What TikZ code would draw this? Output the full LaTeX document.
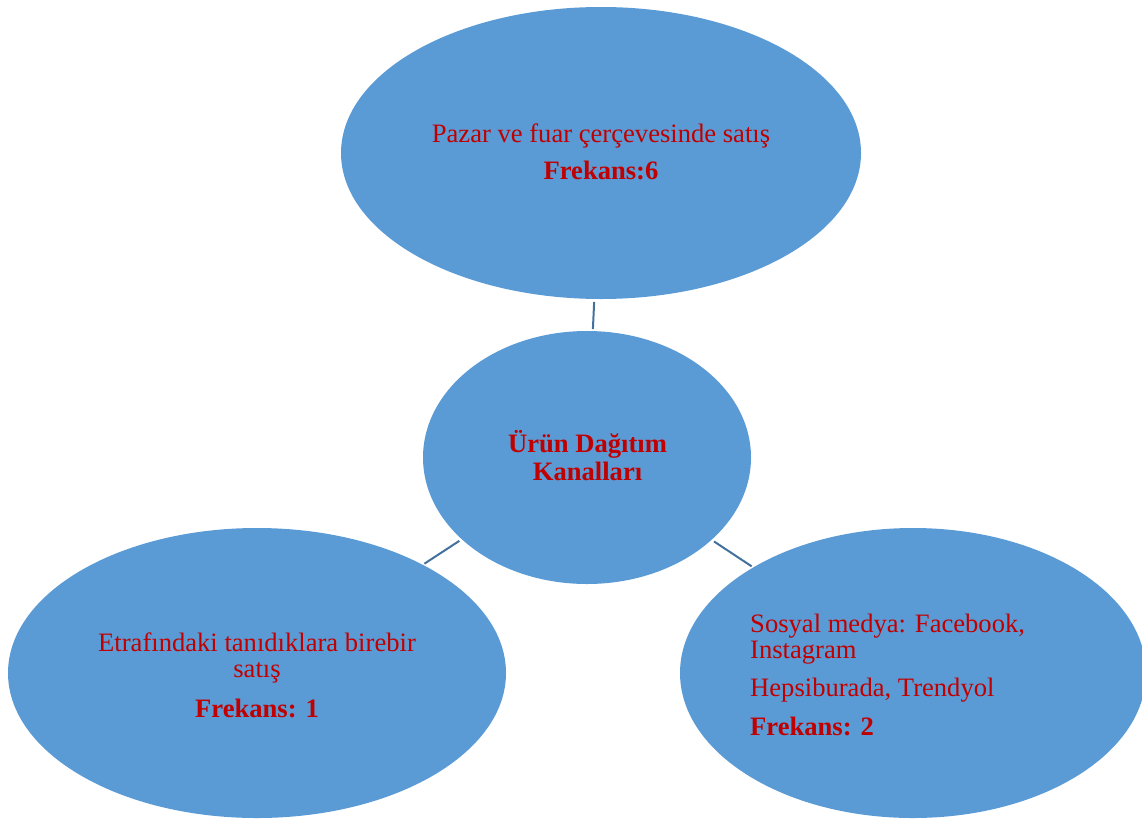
\documentclass[tikz,border=0pt]{standalone}
\usepackage{fontspec}
\setmainfont{Liberation Serif}
\usetikzlibrary{shapes.geometric}
\definecolor{fillblue}{HTML}{5B9BD5}
\definecolor{lineblue}{HTML}{41719C}
\definecolor{txtred}{HTML}{C00000}
\tikzset{
  bubble/.style={ellipse, fill=fillblue, draw=none, inner sep=0pt, outer sep=0pt},
  link/.style={draw=lineblue, line width=2pt, shorten <=3pt, shorten >=2pt},
  txt/.style={text=txtred, font=\fontsize{26.6}{27}\selectfont, inner sep=0pt, anchor=base},
  txtl/.style={txt, anchor=base west},
  bold/.style={font=\fontsize{26.6}{27}\selectfont\bfseries}
}
\begin{document}
\begin{tikzpicture}[x=1pt,y=-1pt]
\path[use as bounding box] (0,0) rectangle (1142,819);
\begin{scope}
\clip (0,0) rectangle (1142,819);
\node[bubble, minimum width=520pt, minimum height=292pt] (top) at (601,153) {};
\node[bubble, minimum width=328pt, minimum height=253pt] (mid) at (587,457.5) {};
\node[bubble, minimum width=498pt, minimum height=290pt] (left) at (257,673) {};
\node[bubble, minimum width=466pt, minimum height=290pt] (right) at (913,673) {};
\end{scope}
\draw[link] (top) -- (mid);
\draw[link] (mid) -- (left);
\draw[link] (mid) -- (right);
% top texts
\node[txt] (t1) at (601,142) {Pazar ve fuar çerçevesinde satış};
\node[txt, bold] (t2) at (601,179) {Frekans:6};
% center
\node[txt, bold] (m1) at (587.5,452) {Ürün Dağıtım};
\node[txt, bold] (m2) at (587.5,480) {Kanalları};
% left
\node[txt] (l1) at (257,651) {Etrafındaki tanıdıklara birebir};
\node[txt] (l2) at (257,677) {satış};
\node[txt, bold] (l3) at (257,717) {Frekans: 1};
% right
\node[txtl] (r1) at (750,632) {Sosyal medya: Facebook,};
\node[txtl] (r2) at (750,658.5) {Instagram};
\node[txtl] (r3) at (750,696) {Hepsiburada, Trendyol};
\node[txtl, bold] (r4) at (750,735) {Frekans: 2};
\end{tikzpicture}
\end{document}
